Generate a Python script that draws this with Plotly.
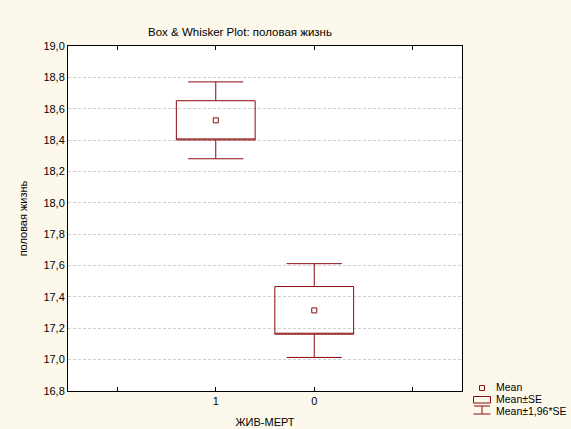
import plotly.graph_objects as go

# Data
categories = ["1", "0"]
cat_pos = [1, 2]
means = [18.526, 17.314]
se_low = [18.401, 17.162]
se_high = [18.651, 17.466]
ci_low = [18.281, 17.014]
ci_high = [18.771, 17.612]

y_ticks = [16.8, 17.0, 17.2, 17.4, 17.6, 17.8, 18.0, 18.2, 18.4, 18.6, 18.8, 19.0]

RED = "#8b0a0a"
FONT = "Liberation Sans, Arial, sans-serif"

fig = go.Figure()

fig.add_trace(go.Box(
    x=cat_pos,
    q1=se_low, median=se_low, q3=se_high,
    lowerfence=ci_low, upperfence=ci_high,
    width=0.8, whiskerwidth=0.7,
    line=dict(color=RED, width=1),
    fillcolor="rgba(255,255,255,0)",
    boxpoints=False,
    showlegend=False,
    hoverinfo="skip",
))

fig.add_trace(go.Scatter(
    x=cat_pos, y=means, mode="markers",
    marker=dict(symbol="square-open", size=5, color=RED, line=dict(width=1, color=RED)),
    showlegend=False, hoverinfo="skip",
))

# Plot-area geometry (pixels) for custom legend
L, R, T, B = 68, 462, 46, 391
W, H = R - L, B - T

def px(x):
    return (x - L) / W

def py(y):
    return (B - y) / H

shapes = []
# Mean icon
shapes.append(dict(type="rect", xref="paper", yref="paper",
                   x0=px(479.5), x1=px(484.5), y0=py(390.5), y1=py(385.5),
                   line=dict(color=RED, width=1)))
# Mean±SE icon
shapes.append(dict(type="rect", xref="paper", yref="paper",
                   x0=px(473.5), x1=px(490.5), y0=py(403), y1=py(396.5),
                   line=dict(color=RED, width=1)))
# Mean±1,96*SE icon
shapes.append(dict(type="line", xref="paper", yref="paper",
                   x0=px(474), x1=px(490), y0=py(406), y1=py(406),
                   line=dict(color=RED, width=1)))
shapes.append(dict(type="line", xref="paper", yref="paper",
                   x0=px(482), x1=px(482), y0=py(406), y1=py(414),
                   line=dict(color=RED, width=1)))
shapes.append(dict(type="line", xref="paper", yref="paper",
                   x0=px(473.5), x1=px(490.5), y0=py(414), y1=py(414),
                   line=dict(color=RED, width=1)))

annotations = []
for txt, yy in [("Mean", 387), ("Mean±SE", 399), ("Mean±1,96*SE", 411)]:
    annotations.append(dict(text=txt, xref="paper", yref="paper",
                            x=px(494), y=py(yy), xanchor="left", yanchor="middle",
                            showarrow=False, font=dict(size=10.5, color="#000000", family=FONT)))

fig.update_layout(
    width=571, height=429,
    margin=dict(l=L, r=571 - R, t=T, b=429 - B),
    paper_bgcolor="#fdf8ec",
    plot_bgcolor="#ffffff",
    separators=", ",
    font=dict(family=FONT, size=11, color="#000000"),
    title=dict(text="Box & Whisker Plot: половая жизнь",
               xref="container", yref="container",
               x=240 / 571, y=1 - 32 / 429, xanchor="center", yanchor="middle",
               font=dict(size=11.5, family=FONT)),
    shapes=shapes,
    annotations=annotations,
    showlegend=False,
)

fig.update_xaxes(
    range=[-0.5, 3.5],
    tickvals=[0, 1, 2, 3],
    ticktext=["", categories[0], categories[1], ""],
    ticks="inside", ticklen=4, tickcolor="#000000",
    showline=True, linecolor="#000000", linewidth=1, mirror="ticks",
    showgrid=False, zeroline=False, automargin=False,
    title=dict(text="ЖИВ-МЕРТ", standoff=12, font=dict(size=11)),
)

fig.update_yaxes(
    range=[16.8, 19.0],
    tickvals=y_ticks,
    tickformat=".1f",
    ticks="",
    showline=True, linecolor="#000000", linewidth=1, mirror=True,
    showgrid=True, gridcolor="#cfcfcf", griddash="3px,2px", gridwidth=1,
    zeroline=False, automargin=False,
    title=dict(text="половая жизнь", standoff=13, font=dict(size=11)),
)

fig.write_html("out.html")
